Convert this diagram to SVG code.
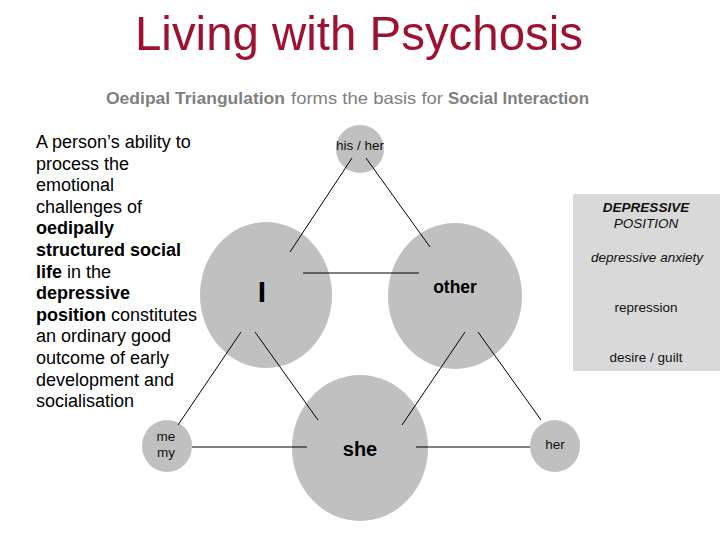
<svg xmlns="http://www.w3.org/2000/svg" width="720" height="540" viewBox="0 0 720 540">
<style>
.c{fill:#c0c0c0}
.t{font-family:"Liberation Sans",Arial,sans-serif;fill:#000}
.sub{font-family:"Liberation Sans",Arial,sans-serif;fill:#7f7f7f;font-size:16.5px}
.ln{stroke:#000;stroke-width:1;fill:none}
.b{font-weight:bold}
.lbl{font-family:"Liberation Sans",Arial,sans-serif;font-size:13.5px;fill:#111;text-anchor:middle}
.box{font-family:"Liberation Sans",Arial,sans-serif;font-size:13.5px;fill:#111;text-anchor:middle}
</style>
<rect width="720" height="540" fill="#fff"/>
<text x="359" y="50" text-anchor="middle" font-family="'Liberation Sans',Arial,sans-serif" font-size="49" fill="#9e1230" textLength="448" lengthAdjust="spacingAndGlyphs">Living with Psychosis</text>
<g id="subtitle">
<text class="sub b" x="106" y="104" textLength="179" lengthAdjust="spacingAndGlyphs">Oedipal Triangulation</text>
<text class="sub" x="291" y="104" textLength="152" lengthAdjust="spacingAndGlyphs">forms the basis for</text>
<text class="sub b" x="448" y="104" textLength="141" lengthAdjust="spacingAndGlyphs">Social Interaction</text>
</g>
<g id="description" class="t" font-size="18">
<text x="36" y="148">A person’s ability to</text>
<text x="36" y="169.6">process the</text>
<text x="36" y="191.2">emotional</text>
<text x="36" y="212.8">challenges of</text>
<text x="36" y="234.4" class="b">oedipally</text>
<text x="36" y="256" class="b">structured social</text>
<text x="36" y="277.6"><tspan class="b">life</tspan> in the</text>
<text x="36" y="299.2" class="b">depressive</text>
<text x="36" y="320.8"><tspan class="b">position</tspan> constitutes</text>
<text x="36" y="342.4">an ordinary good</text>
<text x="36" y="364">outcome of early</text>
<text x="36" y="385.6">development and</text>
<text x="36" y="407.2">socialisation</text>
</g>
<g id="depressive-position">
<rect x="573" y="194" width="147" height="177" fill="#d9d9d9"/>
<text class="box b" x="646" y="212" font-style="italic">DEPRESSIVE</text>
<text class="box" x="646" y="228" font-style="italic">POSITION</text>
<text class="box" x="647" y="262" font-style="italic">depressive anxiety</text>
<text class="box" x="646" y="312">repression</text>
<text class="box" x="646" y="362">desire / guilt</text>
</g>
<g id="node-hishe">
<circle class="c" cx="360" cy="149" r="24"/>
<text class="lbl" x="360" y="150">his / her</text>
</g>
<g id="node-I">
<ellipse class="c" cx="266" cy="295" rx="66" ry="73"/>
<text class="t b" x="262" y="302" font-size="30" text-anchor="middle">I</text>
</g>
<g id="node-other">
<ellipse class="c" cx="455" cy="296" rx="67" ry="73"/>
<text class="t b" x="455" y="293" font-size="17.5" text-anchor="middle">other</text>
</g>
<g id="node-she">
<ellipse class="c" cx="360" cy="448" rx="68" ry="73"/>
<text class="t b" x="360" y="456" font-size="20" text-anchor="middle">she</text>
</g>
<g id="node-memy">
<ellipse class="c" cx="167" cy="446" rx="25" ry="26"/>
<text class="lbl" x="166" y="441">me</text>
<text class="lbl" x="166" y="457">my</text>
</g>
<g id="node-her">
<ellipse class="c" cx="555" cy="446" rx="25" ry="26"/>
<text class="lbl" x="555" y="449">her</text>
</g>
<g id="connectors" class="ln">
<line x1="352" y1="158" x2="290" y2="252"/>
<line x1="366" y1="158" x2="430" y2="247"/>
<line x1="303" y1="273" x2="419" y2="273"/>
<line x1="241" y1="332" x2="178" y2="425"/>
<line x1="255" y1="332" x2="318" y2="420"/>
<line x1="465" y1="332" x2="402" y2="425"/>
<line x1="478" y1="332" x2="541" y2="420"/>
<line x1="192" y1="447" x2="307" y2="447"/>
<line x1="416" y1="447" x2="530" y2="447"/>
</g>
</svg>
